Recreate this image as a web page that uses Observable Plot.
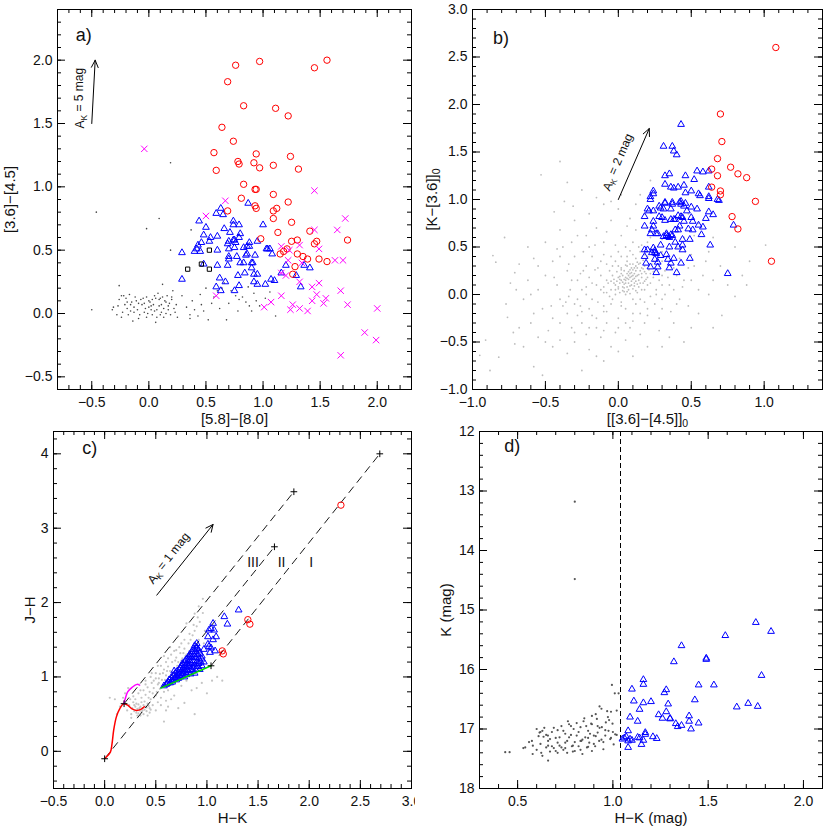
<!DOCTYPE html>
<html><head><meta charset="utf-8">
<script src="https://cdn.jsdelivr.net/npm/d3@7"></script>
<script src="https://cdn.jsdelivr.net/npm/@observablehq/plot@0.6"></script>
<style>
body{margin:0;background:#fff}
#fig{position:relative;width:830px;height:830px;overflow:hidden;background:#fff}
#fig svg{position:absolute;background:transparent}
</style></head><body><div id="fig"></div>
<script>
// ---------- Panel a: [5.8]-[8.0] vs [3.6]-[4.5] ----------
const aClassI = [[0.76,1.96],[0.97,1.99],[1.45,1.94],[1.56,2.00],[0.69,1.83],[0.83,1.64],[1.11,1.62],[1.22,1.56],[0.64,1.47],[0.74,1.36],[0.57,1.27],[0.94,1.26],[1.24,1.24],[0.59,1.13],[0.78,1.20],[0.79,1.18],[0.92,1.19],[0.97,1.15],[1.09,1.17],[1.31,1.14],[0.83,1.02],[0.93,0.98],[0.94,0.98],[0.81,0.91],[1.09,0.94],[0.69,0.81],[0.93,0.85],[0.94,0.83],[1.09,0.81],[1.12,0.83],[1.22,0.88],[1.09,0.75],[1.25,0.72],[1.13,0.64],[0.98,0.59],[1.41,0.65],[1.74,0.58],[1.25,0.57],[1.30,0.58],[1.47,0.57],[1.45,0.55],[1.21,0.51],[1.18,0.49],[1.15,0.47],[1.30,0.47],[1.35,0.45],[1.39,0.43],[1.49,0.43],[1.56,0.41],[1.28,0.37],[1.26,0.31]];
const aClassII = [[0.29,0.48],[0.29,0.27],[0.44,0.73],[0.50,0.68],[0.59,0.79],[0.63,0.83],[0.65,0.78],[0.60,0.61],[0.66,0.67],[0.71,0.64],[0.74,0.73],[0.74,0.70],[0.79,0.70],[0.48,0.62],[0.46,0.56],[0.43,0.54],[0.40,0.49],[0.45,0.49],[0.42,0.51],[0.54,0.60],[0.53,0.57],[0.60,0.50],[0.48,0.39],[0.60,0.38],[0.69,0.55],[0.70,0.51],[0.75,0.58],[0.76,0.56],[0.74,0.58],[0.75,0.52],[0.70,0.45],[0.70,0.43],[0.77,0.45],[0.79,0.60],[0.80,0.63],[0.83,0.52],[0.86,0.53],[0.88,0.56],[0.87,0.87],[0.88,0.53],[0.86,0.47],[0.85,0.46],[0.95,0.57],[0.93,0.46],[1.00,0.70],[1.04,0.51],[1.03,0.51],[1.06,0.51],[1.08,0.47],[0.69,0.38],[0.80,0.40],[0.83,0.40],[0.90,0.40],[0.90,0.36],[0.91,0.40],[0.78,0.30],[0.84,0.32],[0.92,0.31],[0.95,0.31],[0.92,0.25],[0.95,0.23],[1.02,0.23],[1.07,0.27],[1.10,0.26],[0.62,0.28],[0.67,0.25],[0.59,0.21],[0.63,0.18],[0.75,0.18],[0.79,0.22],[1.20,0.38],[1.16,0.32],[1.29,0.30],[1.33,0.21],[1.36,0.38],[1.41,0.36],[0.70,0.57]];
const aOther = [[-0.04,1.30],[0.67,0.89],[0.50,0.77],[1.45,0.97],[1.72,0.75],[1.65,0.66],[1.45,0.66],[1.49,0.51],[1.16,0.53],[1.32,0.54],[1.23,0.50],[1.63,0.42],[1.70,0.42],[1.22,0.42],[1.34,0.40],[1.20,0.30],[1.16,0.32],[1.32,0.25],[1.49,0.24],[1.43,0.21],[1.68,0.18],[1.47,0.15],[1.55,0.12],[1.74,0.07],[1.53,0.08],[1.43,0.10],[1.16,0.14],[1.07,0.09],[1.01,0.05],[1.26,0.07],[1.24,0.03],[1.32,0.04],[1.39,0.02],[2.00,0.04],[1.89,-0.15],[1.99,-0.21],[1.68,-0.33],[0.59,0.14]];
const aSquares = [[0.34,0.35],[0.46,0.39],[0.53,0.35],[0.53,0.50]];
const aField = [[-0.32,0.03],[-0.31,0.05],[-0.26,0.11],[-0.24,0.14],[-0.22,0.14],[-0.20,0.12],[-0.19,0.04],[-0.18,-0.01],[-0.15,0.09],[-0.14,-0.06],[-0.12,0.13],[-0.10,0.03],[-0.09,-0.04],[-0.07,0.11],[-0.06,0.07],[-0.04,0.01],[-0.02,0.13],[0.00,0.05],[0.01,0.09],[0.02,0.03],[0.03,-0.01],[0.04,0.07],[0.05,0.14],[0.06,-0.07],[0.07,0.03],[0.09,0.11],[0.10,-0.01],[0.11,0.07],[0.12,0.13],[0.13,0.04],[0.15,0.00],[0.15,0.09],[0.17,0.03],[0.17,0.06],[0.19,-0.01],[0.20,0.13],[0.22,0.04],[0.23,0.01],[0.25,-0.03],[0.21,0.18],[0.29,0.14],[-0.28,-0.01],[-0.24,-0.03],[-0.21,0.07],[-0.17,0.15],[-0.13,0.01],[-0.08,-0.01],[-0.04,0.08],[0.03,0.11],[0.07,-0.03],[0.13,-0.03],[0.16,0.14],[0.20,0.11],[-0.16,0.07],[-0.02,-0.03],[0.08,0.16],[-0.27,0.06],[-0.23,0.01],[-0.11,0.10],[-0.05,0.12],[0.00,0.10],[0.05,0.02],[0.09,0.06],[0.14,0.10],[0.18,0.08],[-0.19,0.09],[-0.13,0.05],[-0.01,0.00],[0.11,0.01],[0.24,0.07],[-0.09,0.08],[0.06,0.12],[0.02,0.06],[-0.03,0.04],[0.10,0.12],[-0.16,0.02],[0.36,-0.01],[0.38,0.10],[0.40,0.03],[0.43,-0.02],[0.46,0.07],[0.48,0.02],[0.52,-0.05],[0.55,0.08],[0.57,0.13],[0.62,0.04],[0.64,0.20],[0.68,-0.05],[0.72,0.18],[0.76,0.14],[0.79,0.11],[0.82,0.13],[0.85,0.09],[0.88,0.06],[0.90,0.02],[0.94,0.10],[0.97,0.06],[1.02,0.12],[1.06,0.17],[1.11,-0.02],[0.78,0.02],[0.70,0.08],[0.60,0.18],[0.45,0.15],[0.50,0.20],[0.66,0.24],[0.92,0.16],[0.33,0.05],[-0.46,0.80],[-0.50,0.03],[0.19,1.19],[-0.02,0.67],[0.09,0.75],[0.19,0.50],[0.37,0.66],[0.12,0.23],[-0.26,0.22],[0.87,0.21],[0.36,-0.04]];
const aXTicks = [-0.5,0,0.5,1,1.5,2];
const aYTicks = [-0.5,0,0.5,1,1.5,2];

// ---------- Panel b: [[3.6]-[4.5]]0 vs [K-[3.6]]0 ----------
const bClassI = [[1.08,2.60],[0.70,1.90],[0.71,1.61],[0.68,1.43],[0.77,1.34],[0.64,1.32],[0.82,1.27],[0.68,1.25],[0.88,1.23],[0.64,1.13],[0.70,1.09],[0.70,1.05],[0.94,0.98],[0.78,0.82],[0.82,0.69],[1.05,0.35]];
const bClassII = [[0.43,1.79],[0.31,1.56],[0.37,1.56],[0.38,1.51],[0.40,1.47],[0.32,1.25],[0.35,1.27],[0.46,1.25],[0.54,1.30],[0.58,1.29],[0.62,1.30],[0.52,1.21],[0.32,1.16],[0.36,1.13],[0.38,1.12],[0.41,1.13],[0.45,1.15],[0.50,1.09],[0.46,1.07],[0.55,1.06],[0.56,1.04],[0.62,1.13],[0.62,1.03],[0.68,1.00],[0.24,1.09],[0.24,1.06],[0.22,1.03],[0.22,1.00],[0.32,0.97],[0.32,0.96],[0.37,0.97],[0.37,0.95],[0.43,0.98],[0.43,0.95],[0.46,0.96],[0.45,0.93],[0.50,0.92],[0.54,0.90],[0.28,0.93],[0.29,0.91],[0.31,0.90],[0.36,0.90],[0.20,0.90],[0.21,0.88],[0.24,0.88],[0.18,0.82],[0.28,0.82],[0.30,0.81],[0.43,0.82],[0.44,0.81],[0.47,0.88],[0.50,0.81],[0.62,0.87],[0.65,0.84],[0.60,0.80],[0.24,0.77],[0.32,0.78],[0.36,0.79],[0.38,0.79],[0.39,0.79],[0.51,0.77],[0.45,0.77],[0.18,0.72],[0.24,0.72],[0.23,0.68],[0.22,0.64],[0.26,0.64],[0.27,0.64],[0.31,0.61],[0.33,0.64],[0.34,0.61],[0.35,0.60],[0.37,0.62],[0.39,0.68],[0.41,0.68],[0.42,0.72],[0.48,0.69],[0.55,0.73],[0.58,0.71],[0.51,0.68],[0.57,0.63],[0.49,0.58],[0.44,0.58],[0.39,0.55],[0.29,0.52],[0.35,0.50],[0.41,0.50],[0.44,0.52],[0.44,0.47],[0.63,0.52],[0.24,0.49],[0.18,0.47],[0.20,0.47],[0.25,0.46],[0.23,0.44],[0.26,0.43],[0.29,0.41],[0.18,0.40],[0.25,0.37],[0.33,0.42],[0.38,0.38],[0.34,0.37],[0.36,0.33],[0.19,0.33],[0.27,0.34],[0.43,0.33],[0.49,0.38],[0.22,0.29],[0.27,0.29],[0.35,0.28],[0.26,0.23],[0.40,0.23],[0.75,0.22],[0.79,0.73],[0.69,0.99],[0.62,1.01],[0.25,0.44],[0.33,0.62],[0.36,0.63],[0.41,0.83],[0.42,0.97]];
const bField = [[0.02,0.15],[0.05,0.12],[0.08,0.18],[0.10,0.20],[0.03,0.08],[0.06,0.22],[0.12,0.14],[0.15,0.25],[-0.02,0.10],[0.00,0.18],[0.04,0.25],[0.09,0.10],[0.13,0.28],[0.07,0.05],[-0.05,0.05],[0.11,0.22],[0.16,0.18],[0.18,0.30],[0.01,0.02],[-0.03,0.16],[0.06,0.30],[0.14,0.08],[0.19,0.22],[0.08,0.26],[0.03,0.20],[-0.01,0.24],[0.10,0.32],[0.12,0.04],[0.05,0.00],[-0.07,0.12],[0.17,0.12],[0.21,0.26],[0.02,0.28],[0.09,0.14],[0.04,0.16],[0.07,0.12],[0.11,0.17],[0.00,0.06],[0.13,0.20],[0.06,0.08],[-0.04,0.20],[0.15,0.33],[0.20,0.18],[0.23,0.32],[0.01,0.12],[0.08,0.22],[0.10,0.06],[-0.08,0.02],[0.14,0.15],[0.05,0.18],[0.03,0.04],[0.12,0.25],[0.16,0.28],[0.07,0.16],[-0.02,0.00],[0.18,0.14],[0.09,0.28],[0.02,0.22],[0.11,0.09],[0.04,0.11],[0.22,0.22],[0.25,0.28],[0.06,0.35],[-0.06,0.25],[0.17,0.36],[0.13,0.02],[0.00,0.30],[0.08,0.01],[-0.10,0.08],[0.20,0.10],[0.05,0.15],[0.09,0.19],[0.13,0.11],[0.01,0.19],[0.07,0.24],[0.11,0.28],[0.16,0.22],[-0.01,0.14],[0.04,0.03],[0.14,0.32],
[0.03,0.13],[0.06,0.17],[0.09,0.23],[0.12,0.19],[0.15,0.12],[0.18,0.24],[0.00,0.08],[-0.03,0.12],[0.02,0.26],[0.05,0.31],[0.10,0.16],[0.14,0.21],[0.17,0.27],[0.21,0.30],[0.08,0.09],[0.11,0.12],[0.04,0.07],[0.07,0.20],[0.13,0.34],[0.19,0.16],[0.22,0.12],[0.24,0.24],[0.01,0.16],[-0.05,0.14],[-0.02,0.05],[0.06,0.03],[0.10,0.26],[0.16,0.05],[0.12,0.30],[0.08,0.32],
[-0.30,-0.10],[-0.25,0.05],[-0.20,-0.15],[-0.35,-0.20],[-0.15,0.10],[-0.18,-0.05],[-0.10,-0.12],[-0.40,-0.05],[-0.45,-0.25],[-0.28,0.15],[-0.22,0.30],[-0.12,0.35],[-0.05,0.40],[0.00,0.45],[0.05,0.50],[0.10,0.55],[0.15,0.45],[0.20,0.40],[0.25,0.50],[0.30,0.35],[0.28,0.15],[0.32,0.25],[0.35,0.10],[0.40,0.20],[0.38,0.05],[0.30,-0.05],[0.25,-0.10],[0.20,-0.15],[0.15,-0.05],[0.10,-0.20],[0.05,-0.15],[0.00,-0.25],[-0.05,-0.10],[-0.08,-0.30],[-0.15,-0.25],[-0.25,-0.30],[-0.32,-0.35],[-0.38,-0.12],[-0.42,0.10],[-0.35,0.25],[-0.30,0.40],[-0.20,0.50],[-0.10,0.55],[0.02,0.62],[0.12,0.68],[0.22,0.60],[0.27,0.65],[0.35,0.48],[0.42,0.38],[0.45,0.15],[0.48,0.28],[0.42,-0.05],[0.36,-0.18],[0.28,-0.25],[0.18,-0.30],[0.08,-0.35],[-0.02,-0.40],[-0.12,-0.45],[-0.22,-0.42],[-0.30,-0.50],[-0.48,-0.38],[-0.52,-0.15],[-0.55,0.05],[-0.50,0.20],[-0.45,0.35],[-0.38,0.50],[-0.28,0.62],[-0.15,0.70],[-0.05,0.78],[0.08,0.80],[0.18,0.85],[0.00,0.90],[-0.12,0.20],[-0.08,0.32],[0.18,0.05],[0.22,-0.02],[0.12,-0.10],[0.30,0.45],[0.36,0.30],[0.24,0.42],[-0.20,0.18],[-0.25,-0.18],[-0.15,-0.35],[0.05,-0.30],[0.15,-0.20],[0.32,0.00],[0.40,0.50],[0.45,0.60],[0.50,0.42],[-0.40,0.40],[-0.33,0.05],[-0.18,0.40],[-0.02,0.52],[0.10,0.42],[0.20,0.55],[-0.60,-0.30],[-0.55,-0.45],[-0.45,-0.55],[-0.35,-0.62],[-0.20,-0.58],[-0.05,-0.55],[0.05,-0.48],[0.15,-0.42],[0.28,-0.38],[0.38,-0.30],[0.48,-0.12],[0.55,0.05],[0.58,0.20],[0.52,0.62],[0.55,0.75],[0.48,0.85],[0.35,0.80],[0.25,0.88],[0.12,0.95],[-0.10,0.95],[-0.20,0.85],[-0.30,0.78],[-0.40,0.68],[-0.50,0.55],[-0.58,0.38],[-0.62,0.15],[-0.65,-0.05],[-0.10,0.02],[-0.14,-0.08],[-0.22,0.08],[-0.08,-0.18],[0.02,-0.08],[0.12,0.38],[0.06,0.40],[-0.02,0.35],[0.26,0.05],[0.30,0.20],[0.24,0.18],[-0.06,-0.02],[0.16,0.52],[0.22,0.48],[-0.16,0.26],[-0.26,0.22],[-0.34,-0.02],[-0.28,-0.22],
[-0.28,-0.05],[-0.22,0.00],[-0.18,0.12],[-0.12,0.05],[-0.08,0.15],[-0.14,0.28],[-0.24,0.25],[-0.32,0.15],[-0.36,-0.08],[-0.26,-0.12],[-0.18,-0.22],[-0.10,-0.18],[-0.04,-0.05],[0.02,-0.12],[0.10,-0.05],[0.18,-0.08],[0.26,0.00],[0.30,0.10],[0.34,0.18],[0.38,0.28],[0.33,0.40],[0.28,0.30],[0.24,0.35],[0.18,0.42],[0.14,0.50],[0.08,0.46],[0.02,0.40],[-0.04,0.30],[-0.10,0.42],[-0.16,0.52],[-0.24,0.45],[-0.34,0.32],[-0.44,0.18],[-0.46,-0.12],[-0.40,-0.30],[-0.30,-0.40],[-0.20,-0.35],[-0.10,-0.38],[0.00,-0.35],[0.10,-0.28],[0.20,-0.22],[0.30,-0.15],[0.40,-0.10],[0.44,0.08],[0.50,0.15],[0.52,0.30],[0.46,0.45],[0.38,0.62],[0.30,0.58],[0.20,0.70],[0.06,0.72],[-0.08,0.66],[-0.22,0.62],[-0.32,0.55],[-0.42,0.48],[-0.55,0.30],[-0.60,0.00],[-0.58,-0.20],[-0.50,-0.50],[-0.40,-0.48],[-0.65,-0.55],[-0.72,-0.40],[-0.74,0.12],[-0.68,0.32],[-0.62,0.50],[0.60,0.35],[0.65,0.15],[0.55,-0.20],[0.50,-0.35],[0.35,-0.45],[0.20,-0.55],[0.00,-0.60],[-0.15,-0.65],[0.40,0.70],[0.30,0.95],[0.15,1.05],[-0.15,1.02],[0.65,0.60],[0.80,0.50],[0.85,0.20],
[-0.40,1.40],[-0.53,1.26],[-0.35,1.18],[-0.86,0.41],[-0.84,0.34],[-0.71,0.23],[-0.77,-0.10],[-0.76,-0.24],[-0.91,-0.48],[-0.71,-0.52],[-0.82,-0.66],[-0.58,-0.76],[-0.95,-0.64],[-0.44,0.87],[-0.37,0.98],[-0.31,0.93],[-0.05,0.98],[0.71,-0.22],[0.80,-0.02],[1.01,0.52],[0.88,0.10],[0.65,-0.35],[0.62,0.00],[0.70,0.30],[0.22,1.20],[0.02,1.05],[-0.25,1.10],[-0.70,0.05],[-0.68,-0.35],[-0.52,-0.85],[-0.25,-0.80],[-0.10,-0.70],[0.10,-0.65],[0.30,-0.55],[0.45,-0.50],[-0.88,-0.80],[-0.78,0.60],[0.62,0.45],[0.75,0.10],[0.90,0.35]];
const bXTicks = [-1,-0.5,0,0.5,1];
const bYTicks = [-1,-0.5,0,0.5,1,1.5,2,2.5,3];

// ---------- Panel c: H-K vs J-H ----------
const cClassI = [[2.31,3.31],[1.40,1.77],[1.42,1.71],[1.15,1.35],[1.16,1.31]];
const cClassII = [[1.17,1.81],[1.31,1.90],[1.20,1.71],[1.06,1.72],[1.04,1.65],[1.02,1.63],[1.07,1.63],[1.01,1.54],[1.09,1.54],[1.06,1.50],[1.01,1.44],[0.97,1.37],[1.02,1.41],[1.04,1.39],[1.08,1.35],[1.03,1.33],[0.95,1.24],[0.97,1.20],[0.90,1.38],
[0.60,0.90],[0.62,0.93],[0.63,0.96],[0.64,0.92],[0.65,0.99],[0.66,0.95],[0.67,1.02],[0.68,0.97],[0.69,1.05],[0.70,1.00],[0.70,0.96],[0.71,1.08],[0.72,1.02],[0.72,0.98],[0.73,1.10],[0.74,1.05],[0.74,1.00],[0.75,1.15],[0.75,1.08],[0.76,1.02],[0.76,1.18],[0.77,1.12],[0.77,1.05],[0.78,1.20],[0.78,1.00],[0.79,1.15],[0.79,1.08],[0.80,1.24],[0.80,1.03],[0.80,1.12],[0.81,1.18],[0.82,1.27],[0.82,1.06],[0.82,1.14],[0.83,1.22],[0.83,1.30],[0.84,1.10],[0.84,1.04],[0.85,1.18],[0.85,1.34],[0.85,1.26],[0.86,1.13],[0.86,1.08],[0.87,1.22],[0.87,1.37],[0.87,1.30],[0.88,1.16],[0.88,1.42],[0.88,1.05],[0.89,1.26],[0.89,1.34],[0.89,1.10],[0.90,1.20],[0.90,1.45],[0.90,1.40],[0.91,1.30],[0.91,1.14],[0.92,1.25],[0.92,1.36],[0.93,1.10],[0.93,1.32],[0.94,1.20],[0.95,1.28],[0.95,1.15],[0.73,1.04],[0.66,0.93],[0.69,0.99],[0.78,1.10],[0.81,1.09],[0.83,1.16],[0.86,1.20],[0.88,1.28],[0.92,1.18],[0.76,1.10],[0.71,1.04],[0.84,1.28],[0.80,1.18],[0.74,1.12],[0.58,0.88],[0.61,0.91],[0.68,1.08],[0.79,1.22],[0.86,1.32]];
const cField = [[0.22,0.55],[0.24,0.62],[0.26,0.50],[0.27,0.58],[0.28,0.66],[0.29,0.54],[0.30,0.60],[0.31,0.52],[0.32,0.57],[0.33,0.63],[0.34,0.55],[0.35,0.60],[0.36,0.53],[0.37,0.58],[0.38,0.62],[0.39,0.56],[0.40,0.60],[0.41,0.54],[0.42,0.64],[0.44,0.58],[0.30,0.70],[0.33,0.78],[0.36,0.72],[0.38,0.82],[0.40,0.76],[0.42,0.86],[0.44,0.80],[0.46,0.92],[0.48,0.85],[0.50,0.98],[0.52,0.90],[0.54,1.04],[0.56,0.96],[0.58,1.10],[0.60,1.02],[0.62,1.14],[0.64,1.08],[0.66,1.20],[0.68,1.12],[0.70,1.26],[0.72,1.20],[0.74,1.32],[0.76,1.25],[0.78,1.38],[0.80,1.30],[0.82,1.45],[0.84,1.50],[0.86,1.56],[0.88,1.62],[0.90,1.68],[0.93,1.74],[0.96,1.86],[0.45,1.00],[0.50,1.05],[0.55,1.15],[0.60,1.20],[0.65,1.30],[0.70,1.36],[0.75,1.45],[0.48,0.95],[0.53,0.98],[0.57,1.05],[0.62,1.25],[0.68,1.35],[0.73,1.40],[0.78,1.50],[0.83,1.58],[0.87,1.70],[0.91,1.80],[0.40,0.90],[0.35,0.82],[0.28,0.74],[0.25,0.70],[0.20,0.78],[0.18,0.72],[0.23,0.85],[0.15,0.60],[0.12,0.50],[0.10,0.70],[0.05,0.72],[0.45,0.70],[0.50,0.75],[0.47,0.62],[0.52,0.66],[0.55,0.72],[0.58,0.80],[0.60,0.68],[0.62,0.82],[0.65,0.90],[0.70,0.95],[0.68,0.75],[0.75,0.88],[0.80,0.95],[0.85,0.82],[0.90,0.85],[0.95,0.92],[1.05,0.95],[1.00,0.78],[0.78,0.65],[0.55,0.62],[0.50,0.55],[0.58,0.40],[0.42,0.48],[0.60,0.55],[0.88,0.50],[0.72,0.58],[1.10,1.00],[0.95,1.20],[1.00,1.30],[0.97,1.45],[0.98,1.62],[0.92,1.50],[0.86,1.40],[0.82,1.25],[0.78,1.18],[0.73,1.08],[0.70,1.05],[0.66,0.98],[0.92,1.95],[0.96,2.05],[0.88,1.85],[0.80,1.72],[0.72,1.55],[0.64,1.40],[0.58,1.28],[0.52,1.15],[0.46,1.05],[0.40,0.95],[0.36,0.66],[0.43,0.72],[0.47,0.78],[0.26,0.45],[0.32,0.48],[0.38,0.50],[0.44,0.52],[0.34,0.58],[0.31,0.64],[0.39,0.67],[0.41,0.59],[0.29,0.62],[0.33,0.51],[0.37,0.55],[0.35,0.48],[0.45,0.56],[0.43,0.61],[1.15,0.95],[0.85,1.05],[0.93,1.10],[0.65,0.70],[0.62,0.60],[0.54,0.84],[0.56,0.88],[0.48,0.72],[0.51,0.80],[0.53,0.92],[0.59,0.96],[0.63,1.00],[0.67,1.06],[0.71,1.15],[0.75,1.22],[0.79,1.28],[0.83,1.35],[0.77,1.32],[0.69,1.22],[0.61,1.08]];
const cDwarfHK = [0.007,0.056,0.072,0.088,0.114,0.147,0.186,0.225,0.268,0.31,0.35,0.388];
const cDwarfJH = [-0.09,-0.01,0.10,0.28,0.46,0.57,0.64,0.62,0.57,0.55,0.56,0.60];
const cGiantHK = [0.186,0.202,0.225,0.268,0.316,0.342];
const cGiantJH = [0.64,0.71,0.80,0.86,0.90,0.89];
const cCttsHK = [0.55,1.04];
const cCttsJH = [0.85,1.15];
const cReddening = [[0.19,0.64,1.85,3.49],[0.00,-0.10,1.66,2.75],[1.04,1.15,2.69,4.00]];
const cEnds = [[0.00,-0.10],[0.19,0.64],[1.04,1.15],[1.85,3.49],[1.66,2.75],[2.69,4.00]];
const cRegions = [["III",1.45,2.54],["II",1.73,2.54],["I",2.02,2.54]];
const cXTicks = [-0.5,0,0.5,1,1.5,2,2.5,3];
const cYTicks = [0,1,2,3,4];

// ---------- Panel d: H-K vs K ----------
const dClassII = [[1.75,15.21],[1.83,15.36],[1.59,15.43],[1.36,15.60],[1.49,15.81],[1.49,15.83],[1.32,15.87],[1.78,16.10],[1.16,16.17],[1.16,16.25],[1.45,16.26],[1.53,16.26],[1.10,16.33],[1.28,16.34],[1.27,16.39],[1.43,16.51],[1.11,16.53],[1.16,16.56],[1.20,16.54],[1.29,16.58],[1.71,16.57],[1.65,16.63],[1.76,16.62],[1.14,16.67],[1.28,16.71],[1.24,16.76],[1.09,16.80],[1.26,16.82],[1.30,16.82],[1.30,16.83],[1.40,16.78],[1.13,16.87],[1.40,16.87],[1.45,16.90],[1.33,16.91],[1.34,16.96],[1.36,16.94],[1.41,17.00],[1.08,17.03],[1.17,17.06],[1.17,17.09],[1.13,17.14],[1.14,17.15],[1.21,17.13],[1.23,17.16],[1.05,17.17],[1.06,17.15],[1.08,17.20],[1.09,17.17],[1.10,17.19],[1.07,17.13],[1.16,17.19],[1.15,17.26],[1.08,17.31]];
const dField = [[0.435,17.39],[0.458,17.39],[0.54,17.31],[0.575,17.20],[0.579,17.42],[0.60,17.00],[0.615,17.06],[0.63,17.03],[0.636,17.13],[0.65,17.31],[0.66,17.53],[0.624,17.40],[0.67,17.17],[0.659,17.11],[0.68,17.29],[0.70,17.37],[0.71,17.23],[0.72,17.14],[0.73,17.31],[0.74,17.03],[0.75,17.23],[0.76,17.40],[0.764,16.87],[0.77,17.14],[0.785,17.29],[0.794,17.00],[0.80,17.37],[0.81,17.11],[0.82,17.29],[0.83,16.97],[0.834,17.20],[0.84,17.42],[0.846,16.87],[0.855,17.14],[0.864,17.31],[0.87,17.03],[0.876,17.23],[0.886,16.91],[0.89,17.37],[0.90,17.11],[0.907,17.29],[0.916,16.83],[0.92,17.06],[0.928,17.20],[0.94,16.66],[0.942,16.97],[0.95,17.34],[0.96,17.11],[0.963,16.89],[0.974,16.80],[0.977,17.03],[0.986,17.17],[0.99,16.71],[0.995,16.26],[0.998,16.91],[1.004,17.26],[1.01,16.40],[1.012,17.09],[1.02,16.69],[1.03,16.40],[0.62,17.25],[0.64,16.98],[0.66,17.20],[0.68,17.05],[0.70,17.15],[0.72,17.28],[0.74,17.35],[0.76,17.20],[0.78,17.10],[0.78,16.95],[0.80,17.22],[0.82,17.05],[0.84,17.18],[0.86,16.95],[0.88,17.08],[0.90,17.25],[0.92,16.95],[0.94,17.18],[0.96,17.02],[0.98,16.85],[1.00,17.05],[0.97,16.70],[0.93,16.62],[0.89,16.78],[0.85,16.82],[0.81,16.90],[0.77,16.92],[0.73,16.95],[0.69,16.98],[0.65,17.10],[0.61,17.12],[0.58,17.28],[0.60,17.35],[0.63,17.45],[0.67,17.38],[0.71,17.40],[0.75,17.32],[0.79,17.28],[0.83,17.35],[0.87,17.30],[0.91,17.12],[0.95,17.22],[0.99,17.15],[1.02,17.10],[0.71,17.02],[0.75,17.08],[0.87,17.15],[0.83,17.20],[0.79,17.38],[0.91,16.75],[0.89,16.92],[0.93,16.98],[0.66,17.28],[0.62,17.05],[0.69,17.32],[0.53,17.32],[0.56,17.22],[0.80,13.18],[0.80,14.48]];
const dCut = 1.04;
const dXTicks = [0.5,1,1.5,2];
const dYTicks = [12,13,14,15,16,17,18];

// ---------- helpers ----------
const FONT = "'Liberation Sans', Arial, Helvetica, sans-serif";
const fmt1 = d => (d < 0 ? "\u2212" : "") + Math.abs(d).toFixed(1);
const fmt0 = d => (d < 0 ? "\u2212" : "") + Math.abs(d).toFixed(0);
function minors(dom, step) {
  const a = Math.min(...dom), b = Math.max(...dom);
  const i0 = Math.ceil(a / step - 1e-6), i1 = Math.floor(b / step + 1e-6);
  return d3.range(i0, i1 + 1).map(i => +(i * step).toFixed(4));
}
function subify(svg) {
  d3.select(svg).selectAll("text").each(function () {
    const t = this.textContent;
    if (!t.includes("_{")) return;
    const parts = t.split(/(_\{[^}]*\})/).filter(s => s.length);
    const el = d3.select(this);
    el.text(null);
    let shifted = false;
    for (const p of parts) {
      const m = p.match(/^_\{([^}]*)\}$/);
      if (m) {
        el.append("tspan").attr("dy", "0.3em").attr("font-size", "70%").text(m[1]);
        shifted = true;
      } else {
        const ts = el.append("tspan").text(p);
        if (shifted) { ts.attr("dy", "-0.3em"); shifted = false; }
      }
    }
  });
}
function panel(o) {
  const W = 415, H = o.h || 415;
  const iw = W - o.ml - o.mr, ih = H - o.mt - o.mb;
  const xm = minors(o.xd, o.xminor), ym = minors(o.yd, o.yminor);
  const MJ = 8, MN = 4;
  const marks = [
    ...o.marks,
    Plot.frame({stroke: "#000", strokeWidth: 1}),
    Plot.tickX(xm, {x: d => d, insetTop: ih - MN, stroke: "#000"}),
    Plot.tickX(xm, {x: d => d, insetBottom: ih - MN, stroke: "#000"}),
    Plot.tickX(o.xt, {x: d => d, insetTop: ih - MJ, stroke: "#000"}),
    Plot.tickX(o.xt, {x: d => d, insetBottom: ih - MJ, stroke: "#000"}),
    Plot.tickY(ym, {y: d => d, insetRight: iw - MN, stroke: "#000"}),
    Plot.tickY(ym, {y: d => d, insetLeft: iw - MN, stroke: "#000"}),
    Plot.tickY(o.yt, {y: d => d, insetRight: iw - MJ, stroke: "#000"}),
    Plot.tickY(o.yt, {y: d => d, insetLeft: iw - MJ, stroke: "#000"}),
    Plot.axisX({ticks: o.xt, tickSize: 0, tickPadding: 8, tickFormat: o.xf, label: null, fontSize: 14}),
    Plot.axisY({ticks: o.yt, tickSize: 0, tickPadding: 5, tickFormat: o.yf, label: null, fontSize: 14}),
    Plot.text([o.xlabel], {text: d => d, frameAnchor: "bottom", dy: 30, lineAnchor: "middle", textAnchor: "middle", fontSize: 15}),
    Plot.text([o.ylabel], {text: d => d, frameAnchor: "left", dx: o.ydx, rotate: -90, lineAnchor: "middle", textAnchor: "middle", fontSize: 15})
  ];
  const svg = Plot.plot({
    width: W, height: H,
    marginLeft: o.ml, marginRight: o.mr, marginTop: o.mt, marginBottom: o.mb,
    x: {domain: o.xd},
    y: {domain: o.yd, reverse: !!o.yrev},
    style: {fontFamily: FONT, fontSize: "14px", color: "#111", background: "transparent", overflow: o.overflow || "visible"},
    marks
  });
  subify(svg);
  svg.style.left = o.left + "px";
  svg.style.top = o.top + "px";
  document.getElementById("fig").appendChild(svg);
}
const X = d => d[0], Y = d => d[1];

// ---------- panel a ----------
panel({
  left: 0, top: 0, ml: 57, mr: 4, mt: 9, mb: 26,
  xd: [-0.8, 2.3], yd: [-0.6, 2.4], xt: aXTicks, yt: aYTicks, xminor: 0.1, yminor: 0.1,
  xf: fmt1, yf: fmt1, xlabel: "[5.8]\u2212[8.0]", ylabel: "[3.6]\u2212[4.5]", ydx: -47,
  marks: [
    Plot.dot(aField, {x: X, y: Y, r: 0.8, fill: "#444", stroke: null}),
    Plot.dot(aClassII, {x: X, y: Y, symbol: "triangle", r: 2.5, stroke: "#0000ff", strokeWidth: 1, fill: "none"}),
    Plot.dot(aClassI, {x: X, y: Y, symbol: "circle", r: 3.2, stroke: "#ff0000", strokeWidth: 1, fill: "none"}),
    Plot.dot(aOther, {x: X, y: Y, symbol: "times", r: 3, stroke: "#ff00ff", strokeWidth: 1, fill: "none"}),
    Plot.dot(aSquares, {x: X, y: Y, symbol: "square", r: 2.4, stroke: "#000", strokeWidth: 1, fill: "none"}),
    Plot.arrow([[-0.50, 1.50, -0.47, 2.00]], {x1: d => d[0], y1: d => d[1], x2: d => d[2], y2: d => d[3], stroke: "#000", strokeWidth: 1, headLength: 12, headAngle: 50}),
    Plot.text(["A_{K} = 5 mag"], {text: d => d, x: -0.60, y: 1.70, rotate: -90, fontSize: 12}),
    Plot.text(["a)"], {text: d => d, x: -0.64, y: 2.20, textAnchor: "start", fontSize: 18})
  ]
});

// ---------- panel b ----------
panel({
  left: 415, top: 0, ml: 57, mr: 8, mt: 9, mb: 26,
  xd: [-1, 1.4], yd: [-1, 3], xt: bXTicks, yt: bYTicks, xminor: 0.1, yminor: 0.1,
  xf: fmt1, yf: fmt1, xlabel: "[[3.6]\u2212[4.5]]_{0}", ylabel: "[K\u2212[3.6]]_{0}", ydx: -40,
  marks: [
    Plot.dot(bField, {x: X, y: Y, r: 0.9, fill: "#bdbdbd", stroke: null}),
    Plot.dot(bClassII, {x: X, y: Y, symbol: "triangle", r: 2.5, stroke: "#0000ff", strokeWidth: 1, fill: "none"}),
    Plot.dot(bClassI, {x: X, y: Y, symbol: "circle", r: 3.2, stroke: "#ff0000", strokeWidth: 1, fill: "none"}),
    Plot.arrow([[0.0, 1.0, 0.212, 1.747]], {x1: d => d[0], y1: d => d[1], x2: d => d[2], y2: d => d[3], stroke: "#000", strokeWidth: 1, headLength: 12, headAngle: 50}),
    Plot.text(["A_{K} = 2 mag"], {text: d => d, x: 0.0, y: 1.39, rotate: -66.4, fontSize: 12}),
    Plot.text(["b)"], {text: d => d, x: -0.86, y: 2.70, textAnchor: "start", fontSize: 18})
  ]
});

// ---------- panel c ----------
const cDwarf = cDwarfHK.map((v, i) => [v, cDwarfJH[i]]);
const cGiant = cGiantHK.map((v, i) => [v, cGiantJH[i]]);
const cCtts = cCttsHK.map((v, i) => [v, cCttsJH[i]]);
panel({
  left: 0, top: 415, ml: 53, mr: 4, mt: 16, mb: 42, overflow: "hidden",
  xd: [-0.5, 3.0], yd: [-0.5, 4.3], xt: cXTicks, yt: cYTicks, xminor: 0.1, yminor: 0.2,
  xf: fmt1, yf: fmt0, xlabel: "H\u2212K", ylabel: "J\u2212H", ydx: -23,
  marks: [
    Plot.dot(cField, {x: X, y: Y, r: 1.1, fill: "#c4c4c4", stroke: null}),
    Plot.link(cReddening, {x1: d => d[0], y1: d => d[1], x2: d => d[2], y2: d => d[3], stroke: "#000", strokeWidth: 0.9, strokeDasharray: "8,5"}),
    Plot.dot(cClassII, {x: X, y: Y, symbol: "triangle", r: 2.5, stroke: "#0000ff", strokeWidth: 1, fill: "none"}),
    Plot.dot(cClassI, {x: X, y: Y, symbol: "circle", r: 3.2, stroke: "#ff0000", strokeWidth: 1, fill: "none"}),
    Plot.line(cDwarf, {x: X, y: Y, stroke: "#ff0000", strokeWidth: 1.5, curve: "catmull-rom"}),
    Plot.line(cGiant, {x: X, y: Y, stroke: "#ff00ff", strokeWidth: 1.5, curve: "catmull-rom"}),
    Plot.line(cCtts, {x: X, y: Y, stroke: "#00dd00", strokeWidth: 1.5}),
    Plot.dot(cEnds, {x: X, y: Y, symbol: "plus", r: 2.3, stroke: "#000", strokeWidth: 1}),
    Plot.arrow([[0.51, 2.10, 1.06, 3.05]], {x1: d => d[0], y1: d => d[1], x2: d => d[2], y2: d => d[3], stroke: "#000", strokeWidth: 1, headLength: 12, headAngle: 50}),
    Plot.text(["A_{K} = 1 mag"], {text: d => d, x: 0.63, y: 2.59, rotate: -51.6, fontSize: 12}),
    Plot.text(cRegions, {text: d => d[0], x: d => d[1], y: d => d[2], fontSize: 14}),
    Plot.text(["c)"], {text: d => d, x: -0.22, y: 4.07, textAnchor: "start", fontSize: 18})
  ]
});

// ---------- panel d ----------
panel({
  left: 415, top: 415, ml: 64, mr: 8, mt: 16, mb: 42, overflow: "hidden",
  xd: [0.3, 2.1], yd: [12, 18], yrev: true, xt: dXTicks, yt: dYTicks, xminor: 0.1, yminor: 0.2,
  xf: fmt1, yf: fmt0, xlabel: "H\u2212K (mag)", ylabel: "K (mag)", ydx: -33,
  marks: [
    Plot.ruleX([dCut], {x: d => d, stroke: "#000", strokeWidth: 1, strokeDasharray: "5,3"}),
    Plot.dot(dField, {x: X, y: Y, r: 1.1, fill: "#555", stroke: null}),
    Plot.dot(dClassII, {x: X, y: Y, symbol: "triangle", r: 2.5, stroke: "#0000ff", strokeWidth: 1, fill: "none"}),
    Plot.text(["d)"], {text: d => d, x: 0.43, y: 12.25, textAnchor: "start", fontSize: 18})
  ]
});
</script></body></html>
